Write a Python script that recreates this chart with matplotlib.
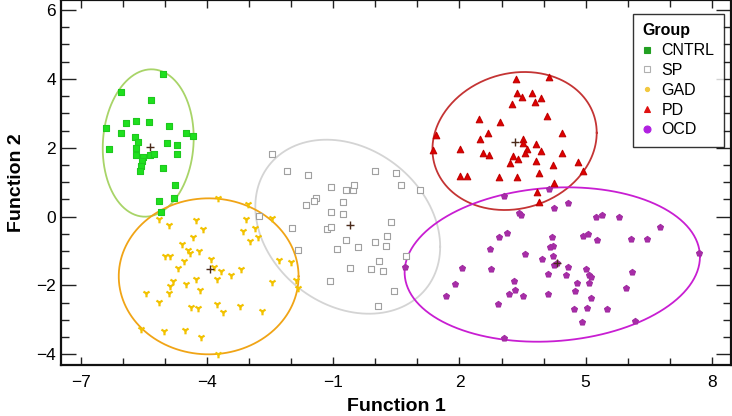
import numpy as np
import matplotlib
matplotlib.use("Agg")
import matplotlib.pyplot as plt
from matplotlib.lines import Line2D
from matplotlib.ticker import MultipleLocator

plt.rcParams['font.family'] = ['Liberation Sans', 'DejaVu Sans']

groups = ["CNTRL", "SP", "GAD", "PD", "OCD"]

cntrl_x = [-5.05, -6.05, -5.33, -6.40, -5.93, -5.69, -5.39, -4.91, -6.05, -5.73, -5.65, -4.50, -4.34,
           -4.96, -4.73, -6.34, -5.685, -5.69, -5.37, -5.27, -4.73, -5.54, -5.55, -5.57, -5.59, -5.05,
           -4.77, -4.79, -5.15, -5.09]
cntrl_y = [4.14, 3.61, 3.39, 2.57, 2.73, 2.79, 2.75, 2.63, 2.44, 2.32, 2.16, 2.42, 2.35,
           2.13, 2.07, 1.96, 2.00, 1.78, 1.78, 1.81, 1.82, 1.74, 1.60, 1.48, 1.33, 1.40,
           0.91, 0.54, 0.44, 0.13]

sp_x = [-2.46, -2.10, -1.60, -1.06, -0.69, -0.54, -0.50, -1.42, -1.45, -1.64, -0.76, -1.06, -0.78,
        -1.99, -1.14, -1.05, -2.78, -1.83, -0.69, -0.92, -0.42, -0.02, 0.25, 0.28, 0.36, -0.02,
        0.48, 0.62, 1.07, -0.61, -0.11, 0.08, 0.19, -1.08, 0.45, 0.07, 0.73]
sp_y = [1.81, 1.33, 1.21, 0.85, 0.76, 0.77, 0.92, 0.55, 0.45, 0.33, 0.42, 0.12, 0.08,
        -0.34, -0.37, -0.31, 0.01, -0.97, -0.68, -0.93, -0.87, -0.73, -0.84, -0.56, -0.16, 1.31,
        1.28, 0.92, 0.76, -1.50, -1.53, -1.29, -1.57, -1.86, -2.16, -2.59, -1.13]

gad_x = [-5.14, -4.92, -4.28, -4.11, -3.08, -3.15, -2.87, -2.98, -2.79, -4.35, -4.61, -4.45, -4.40,
         -4.19, -5.01, -4.88, -4.56, -4.70, -3.92, -3.85, -3.68, -3.78, -3.44, -3.20, -4.26, -4.81,
         -4.88, -4.92, -4.51, -4.18, -5.45, -5.15, -4.39, -4.23, -3.77, -3.62, -3.22, -2.69, -2.45,
         -2.29, -2.01, -1.90, -1.85, -2.46, -3.04, -3.74, -5.57, -5.04, -4.54, -4.16, -3.74]
gad_y = [-0.07, -0.25, -0.10, -0.35, -0.08, -0.42, -0.33, -0.70, -0.60, -0.59, -0.79, -0.97, -1.05,
         -1.00, -1.15, -1.13, -1.29, -1.48, -1.22, -1.47, -1.57, -1.80, -1.71, -1.52, -1.80, -1.86,
         -2.02, -2.22, -1.97, -2.13, -2.22, -2.49, -2.63, -2.66, -2.54, -2.78, -2.60, -2.75, -1.89,
         -1.25, -1.31, -1.84, -2.06, -0.05, 0.36, 0.53, -3.25, -3.32, -3.28, -3.49, -4.00]

pd_x = [3.35, 4.13, 3.36, 3.48, 3.72, 3.80, 3.93, 3.25, 4.08, 2.46, 2.97, 2.67, 2.49, 1.44, 1.37,
        2.01, 2.56, 2.71, 4.43, 3.52, 3.51, 3.83, 3.60, 3.55, 3.95, 4.45, 3.28, 3.39, 3.21, 3.83,
        4.23, 4.82, 4.94, 3.90, 2.02, 2.18, 2.95, 3.36, 4.26, 3.85, 3.90]
pd_y = [3.99, 4.06, 3.58, 3.46, 3.58, 3.34, 3.43, 3.27, 2.92, 2.84, 2.74, 2.43, 2.25, 2.37, 1.93,
        1.97, 1.85, 1.78, 2.42, 2.24, 2.15, 2.10, 1.96, 1.86, 1.91, 1.86, 1.76, 1.66, 1.55, 1.60,
        1.49, 1.59, 1.33, 1.28, 1.18, 1.18, 1.15, 1.14, 0.99, 0.70, 0.41]

ocd_x = [3.06, 4.13, 4.58, 4.24, 3.42, 3.46, 5.24, 5.40, 5.80, 6.78, 2.95, 3.14, 4.20, 4.22, 4.16,
         4.93, 5.06, 5.28, 6.07, 6.45, 2.72, 3.55, 3.97, 4.22, 4.25, 4.31, 4.59, 5.00, 5.07, 5.12,
         5.09, 4.80, 4.54, 4.11, 2.06, 2.75, 0.70, 7.70, 6.10, 5.97, 1.90, 1.68, 3.30, 3.32, 3.18,
         3.51, 4.10, 4.75, 5.13, 2.91, 4.73, 5.04, 5.51, 4.91, 6.18, 3.07]
ocd_y = [0.60, 0.80, 0.39, 0.24, 0.09, 0.05, 0.00, 0.05, -0.01, -0.29, -0.60, -0.47, -0.60, -0.84, -0.89,
         -0.57, -0.50, -0.67, -0.66, -0.64, -0.95, -1.08, -1.23, -1.15, -1.40, -1.36, -1.46, -1.52, -1.71, -1.76,
         -1.94, -1.92, -1.71, -1.66, -1.48, -1.52, -1.45, -1.07, -1.61, -2.06, -1.97, -2.31, -1.86, -2.14, -2.25,
         -2.31, -2.25, -2.15, -2.37, -2.53, -2.67, -2.65, -2.68, -3.05, -3.03, -3.52]

# group centroids
cent_x = [-5.37, -0.615, -3.94, 3.32, 4.33]
cent_y = [2.03, -0.245, -1.53, 2.16, -1.34]

# ellipse parameters: centre x, centre y, half-extent x, half-extent y, correlation
ell_cx = [-5.405, -0.658, -3.967, 3.311, 4.208]
ell_cy = [2.137, -0.294, -1.735, 2.195, -1.392]
ell_hx = [1.082, 2.199, 2.139, 1.954, 3.513]
ell_hy = [2.14, 2.527, 2.265, 2.004, 2.242]
ell_r = [0.07, -0.23, 0.0, 0.12, 0.10]

xs = [cntrl_x, sp_x, gad_x, pd_x, ocd_x]
ys = [cntrl_y, sp_y, gad_y, pd_y, ocd_y]

pt_face = ["#1ee01e", "white", "#f2c200", "#e00000", "#a82ca8"]
pt_edge = ["#1ec81e", "#a0a0a0", "#e8b800", "#c00000", "#a02ca0"]
pt_marker = ["s", "s", "1", "^", "p"]
pt_size = [20, 18, 30, 22, 20]
ell_color = ["#a8d468", "#d4d4d4", "#f0a416", "#c43434", "#c81ed2"]

leg_face = ["#22a022", "white", "#f2c840", "#e01010", "#b020e0"]
leg_edge = ["#22a022", "#b0b0b0", "#f2c840", "#e01010", "#b020e0"]
leg_marker = ["s", "s", "o", "^", "o"]
leg_size = [4, 5, 3, 5, 5]

fig = plt.figure(figsize=(7.32, 4.16), dpi=100)
ax = fig.add_axes([61 / 732, 51 / 416, 670 / 732, 365 / 416])

t = np.linspace(0, 2 * np.pi, 400)
for i in range(5):
    ex = ell_cx[i] + ell_hx[i] * np.cos(t)
    ey = ell_cy[i] + ell_hy[i] * (ell_r[i] * np.cos(t) + np.sqrt(1 - ell_r[i] ** 2) * np.sin(t))
    ax.plot(ex, ey, color=ell_color[i], lw=1.3, zorder=2)

for i in range(5):
    if pt_marker[i] == "1":
        ax.scatter(xs[i], ys[i], marker="1", s=pt_size[i], color=pt_face[i], linewidths=1.6, zorder=3)
    else:
        ax.scatter(xs[i], ys[i], marker=pt_marker[i], s=pt_size[i], facecolor=pt_face[i],
                   edgecolor=pt_edge[i], linewidths=0.8, zorder=3)

ax.scatter(cent_x, cent_y, marker="+", s=30, color="#4a2a1a", linewidths=1.0, zorder=4)

ax.set_xlim(-7.48, 8.46)
ax.set_ylim(-4.31, 6.29)
ax.xaxis.set_major_locator(MultipleLocator(3, offset=-1))
ax.xaxis.set_minor_locator(MultipleLocator(1))
ax.yaxis.set_major_locator(MultipleLocator(2))
ax.yaxis.set_minor_locator(MultipleLocator(0.5))
ax.tick_params(which="both", direction="in", top=True, right=True, width=1.0, color="#222222",
               labelsize=12.5)
ax.tick_params(axis="y", which="major", length=11)
ax.tick_params(axis="y", which="minor", length=6)
ax.tick_params(axis="x", which="major", length=6)
ax.tick_params(axis="x", which="minor", length=5)
ax.tick_params(axis="x", which="major", pad=7)
for s in ax.spines.values():
    s.set_linewidth(1.6)
    s.set_color("#111111")

ax.set_xlabel("Function 1", fontsize=14, fontweight="bold", labelpad=6)
ax.set_ylabel("Function 2", fontsize=14, fontweight="bold", labelpad=8)

handles = [Line2D([], [], linestyle="none", marker=leg_marker[i], markersize=leg_size[i],
                  markerfacecolor=leg_face[i], markeredgecolor=leg_edge[i], markeredgewidth=0.8)
           for i in range(5)]
leg = ax.legend(handles, groups, title="Group", loc="upper right", bbox_to_anchor=(0.99, 0.962),
                borderaxespad=0, fontsize=11.5, title_fontproperties={"weight": "bold", "size": 11.5},
                frameon=True, fancybox=False, edgecolor="black", handlelength=0.6, handletextpad=0.6,
                labelspacing=0.3, borderpad=0.6, alignment="left")
leg.get_frame().set_linewidth(1.0)

fig.savefig("out.png", dpi=100)
